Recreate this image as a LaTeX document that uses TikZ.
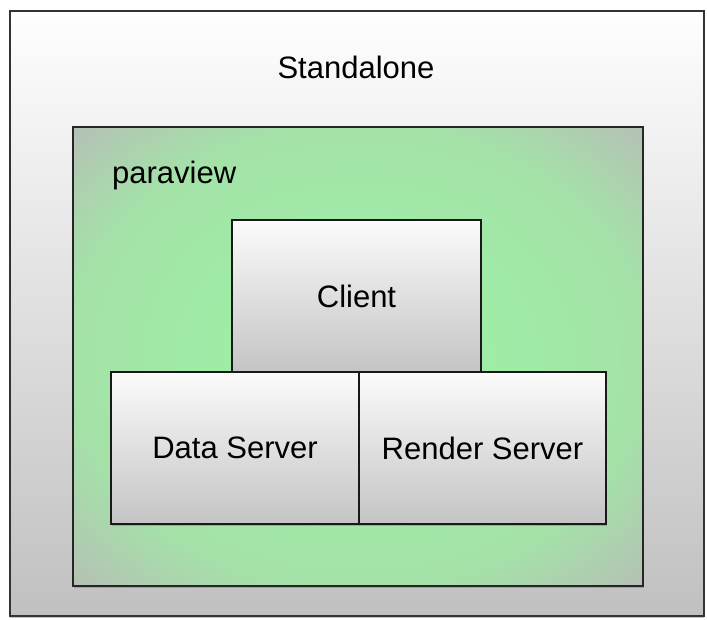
\documentclass[tikz,border=0pt]{standalone}
\usepackage{fontspec}
\setmainfont{Liberation Sans}
\usetikzlibrary{shadows}
\definecolor{gcenter}{HTML}{9EEDA6}
\definecolor{gmid}{HTML}{A4E2A8}
\definecolor{gedge}{HTML}{B6BEB6}
\definecolor{boxtop}{HTML}{FBFBFB}
\definecolor{boxbot}{HTML}{C4C4C4}
\definecolor{outtop}{HTML}{FEFEFE}
\definecolor{outbot}{HTML}{C0C0C0}
\pgfdeclareradialshading{greenglow}{\pgfpoint{0bp}{0bp}}{%
  color(0bp)=(gcenter); color(10bp)=(gcenter); color(25bp)=(gmid); color(36bp)=(gedge); color(50bp)=(gedge)}
\tikzset{
  txt/.style={font=\fontsize{31}{37}\selectfont, text=black},
  outerbox/.style={draw=black!80, line width=2pt, top color=outtop, bottom color=outbot,
    drop shadow={shadow xshift=0pt, shadow yshift=-1.5pt, opacity=.45}},
  greenbox/.style={draw=black!85, line width=2pt, shading=greenglow,
    drop shadow={shadow xshift=0.5pt, shadow yshift=-2pt, opacity=.5}},
  compbox/.style={draw=black!90, line width=2pt, top color=boxtop, bottom color=boxbot,
    drop shadow={shadow xshift=0.5pt, shadow yshift=-2pt, opacity=.5},
    txt, inner sep=0pt},
}
\begin{document}
\begin{tikzpicture}[x=1pt,y=-1pt]
\useasboundingbox (0,0) rectangle (707,619);
\node[outerbox, minimum width=694pt, minimum height=605pt, inner sep=0pt] (standalone) at (357,313.5) {};
\node[txt, anchor=base] (standalonelabel) at (356,78) {Standalone};
\node[greenbox, minimum width=570pt, minimum height=459pt, inner sep=0pt] (paraview) at (358,356.5) {};
\node[txt, anchor=base west, inner sep=0pt] (paraviewlabel) at (112,183) {paraview};
\node[compbox, minimum width=249pt, minimum height=152pt] (client) at (356.5,296) {Client};
\node[compbox, minimum width=248pt, minimum height=152pt] (data) at (235,448) {Data Server};
\node[compbox, minimum width=247pt, minimum height=152pt] (render) at (482.5,448) {Render Server};
\end{tikzpicture}
\end{document}
